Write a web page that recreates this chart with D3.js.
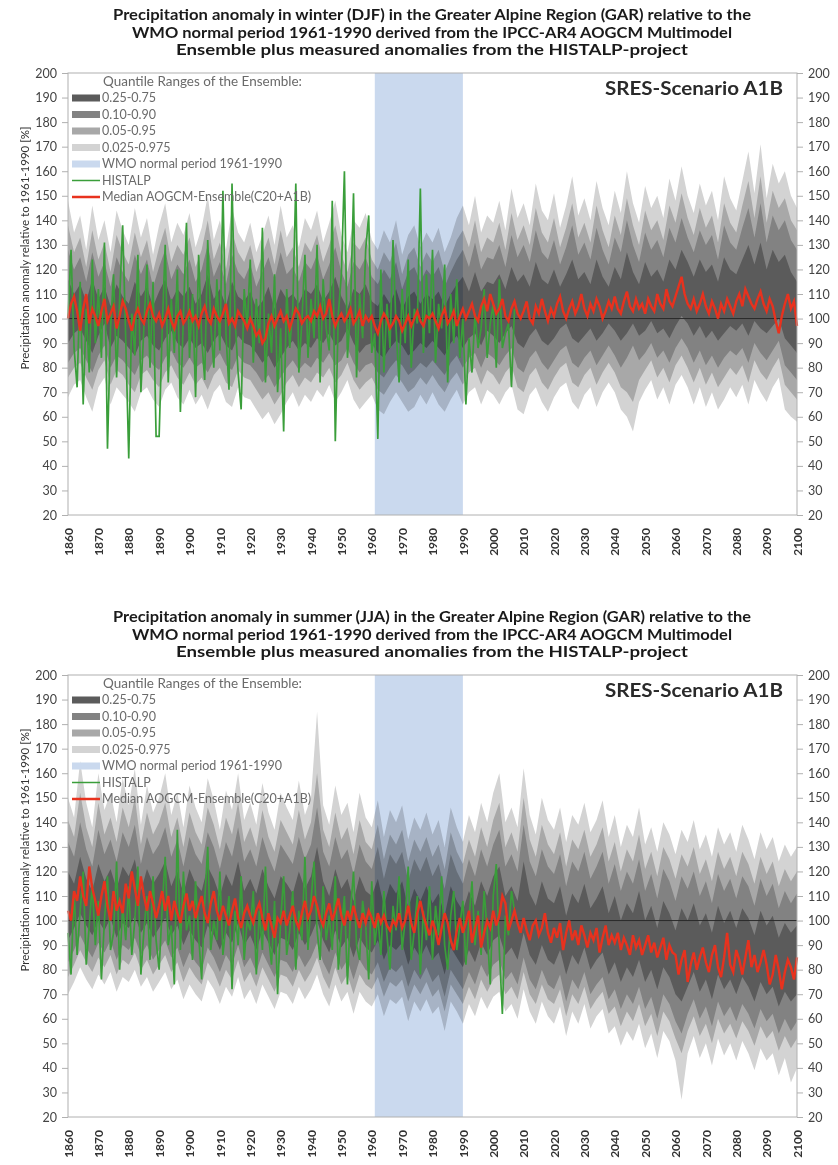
<!DOCTYPE html>
<html>
<head>
<meta charset="utf-8">
<script src="https://cdn.jsdelivr.net/npm/d3@7"></script>
<style>
body { margin: 0; background: #fff; }
svg { display: block; font-family: Lato, 'Open Sans', sans-serif; }
</style>
</head>
<body>
<svg id="chart" width="838" height="1165"></svg>
<script>
// ---------- Data ----------
const medianYears = d3.range(1860, 2101);      // 1860..2100
const histYears = d3.range(1860, 2008);        // 1860..2007
const bandYears = d3.range(1860, 2101, 2);     // every 2nd year
const yTicks = d3.range(20, 201, 10);
const xTicks = d3.range(1860, 2101, 10);

// Winter (DJF)
const winterMedian = [
 100,106,109,103,95,104,110,98,104,101,
 97,103,108,99,102,105,96,101,107,104,
 99,95,101,104,100,98,103,106,101,99,
 102,97,100,104,99,96,101,103,98,100,
 103,99,101,97,102,105,100,98,104,101,
 99,102,106,98,100,97,103,101,99,96,
 100,97,93,95,90,92,98,101,97,100,
 103,99,101,96,100,104,102,98,100,101,
 99,103,101,105,100,102,108,101,97,100,
 102,99,101,104,98,100,103,97,101,99,
 101,97,94,99,102,100,96,98,101,99,
 95,98,101,97,100,103,99,97,101,100,
 102,99,96,101,104,98,100,103,97,101,
 104,100,103,106,101,99,105,108,103,110,
 106,102,104,108,101,99,104,107,102,100,
 103,107,100,98,105,102,108,103,99,104,
 101,106,109,103,100,104,107,102,105,110,
 104,101,106,103,108,105,100,103,107,104,
 109,104,102,107,111,105,103,108,104,106,
 102,108,105,103,110,106,104,112,107,105,
 109,113,117,110,106,104,108,103,106,110,
 105,102,107,104,100,106,103,108,105,102,
 107,110,105,112,109,106,104,108,111,106,
 103,108,105,99,94,101,106,110,104,107,
 97];
const winterHistalp = [
 100,128,88,72,115,65,104,78,124,90,
 112,84,131,47,96,118,76,108,138,92,
 43,102,85,126,70,97,122,80,115,52,
 52,95,130,74,108,86,120,62,101,139,
 84,110,68,126,92,75,132,98,80,116,
 87,152,94,71,155,100,78,63,112,96,
 124,82,108,90,137,74,102,86,118,70,
 96,54,112,88,104,155,78,99,126,84,
 108,92,130,74,116,96,87,148,50,102,
 118,160,84,104,151,76,110,92,128,142,
 86,94,51,120,78,106,88,132,96,74,
 112,90,124,80,104,98,153,86,118,94,
 128,82,106,96,122,74,110,90,116,84,
 100,65,92,78,102,88,96,112,84,98,
 106,80,116,88,94,98,72,104];
const winterQ975 = [
 148,135,142,128,146,132,140,127,144,136,
 130,145,133,141,126,138,147,131,139,134,
 143,129,137,150,132,140,128,145,135,131,
 139,127,134,142,130,146,133,138,129,141,
 136,144,131,139,148,134,127,140,137,143,
 132,128,136,131,140,126,134,138,129,135,
 131,137,127,133,141,146,138,150,135,142,
 139,148,136,153,141,147,138,155,144,140,
 151,137,146,158,142,149,140,156,145,138,
 152,143,160,147,139,154,145,150,141,157,
 148,162,150,143,155,146,152,140,158,149,
 144,156,168,151,171,149,163,155,160,150,
 145];
const winterQ95 = [
 138,127,133,121,136,124,131,119,134,127,
 122,135,125,132,119,129,137,123,130,126,
 133,121,128,140,124,131,120,135,127,123,
 130,119,126,133,122,136,125,129,121,131,
 127,134,123,130,138,126,119,131,128,133,
 124,120,127,123,131,118,126,129,121,127,
 123,128,119,125,132,136,129,140,127,133,
 131,139,128,143,132,138,130,145,135,131,
 141,129,137,147,133,139,131,146,136,129,
 142,134,149,138,130,144,136,140,132,146,
 139,151,141,134,145,137,142,131,147,139,
 135,146,156,141,158,139,152,145,149,140,
 136];
const winterQ90 = [
 128,120,125,115,127,117,123,113,125,119,
 115,126,118,124,113,121,128,116,122,118,
 124,115,120,130,117,123,114,126,119,116,
 122,113,119,125,116,127,118,121,115,123,
 120,126,116,122,129,119,113,123,120,125,
 117,114,120,116,123,112,119,121,115,120,
 117,121,113,119,124,128,121,131,120,125,
 124,130,121,134,125,130,123,136,127,124,
 132,122,129,138,126,131,124,137,128,122,
 133,127,140,130,123,135,128,132,125,137,
 131,141,133,127,136,130,134,124,138,131,
 128,137,145,133,147,131,142,136,140,132,
 128];
const winterQ75 = [
 116,110,114,107,116,108,113,105,114,109,
 106,115,109,113,105,111,116,107,112,109,
 113,106,110,118,108,112,105,115,109,107,
 111,104,107,113,104,112,108,110,106,112,
 110,114,107,111,117,109,104,112,110,114,
 107,105,110,106,112,104,109,111,106,110,
 108,111,105,110,114,117,111,119,111,115,
 114,118,112,121,115,118,113,123,116,114,
 120,113,118,124,116,119,114,124,117,113,
 121,116,127,119,114,123,117,120,115,124,
 120,128,123,117,124,119,122,115,125,120,
 118,124,130,122,131,120,128,123,126,119,
 115];
const winterQ25 = [
 90,94,96,91,86,93,98,88,93,91,
 88,85,91,93,89,87,92,95,90,88,
 92,88,90,86,91,94,89,87,93,90,
 89,86,82,85,80,84,88,91,87,90,
 88,92,90,94,89,91,96,90,86,89,
 90,86,84,88,91,89,85,87,90,88,
 91,88,85,90,93,88,92,94,89,95,
 93,90,94,97,90,88,93,96,91,89,
 92,96,98,92,90,93,96,91,94,98,
 95,91,94,98,93,95,99,94,96,92,
 97,101,98,93,97,92,95,91,94,97,
 95,98,93,99,96,94,97,100,92,89,
 86];
const winterQ10 = [
 82,86,88,83,78,85,89,80,85,83,
 80,77,83,85,81,79,84,87,82,80,
 84,80,82,78,83,86,81,79,85,82,
 81,78,74,77,72,76,80,83,79,82,
 80,84,82,86,81,83,88,82,78,81,
 82,78,76,80,83,81,77,79,82,80,
 83,80,77,82,85,80,84,86,80,86,
 84,81,85,88,80,78,84,87,82,79,
 83,87,89,82,80,84,87,81,85,89,
 85,80,84,89,83,86,90,84,87,82,
 88,92,88,82,87,81,85,80,84,87,
 85,88,82,90,86,83,87,91,81,78,
 75];
const winterQ05 = [
 76,80,82,76,71,79,83,73,79,77,
 73,70,77,79,75,72,78,81,76,73,
 78,73,76,71,77,80,74,72,79,76,
 75,71,67,70,65,69,74,77,72,76,
 74,78,76,80,74,77,82,75,71,74,
 76,71,69,73,77,74,70,72,76,73,
 77,73,70,75,78,73,78,80,73,79,
 77,73,78,81,72,70,77,80,74,71,
 76,80,82,74,72,77,80,73,78,82,
 78,72,70,66,75,79,83,76,80,74,
 81,85,80,74,80,73,78,72,76,80,
 77,81,74,83,78,75,80,84,73,70,
 67];
const winterQ025 = [
 68,73,75,68,62,72,76,65,72,69,
 66,62,70,72,67,64,71,74,68,65,
 71,65,69,63,70,73,66,64,72,68,
 67,63,59,62,57,61,66,70,64,69,
 66,71,68,73,66,70,75,67,63,66,
 69,63,61,66,70,66,62,64,69,65,
 70,65,62,67,71,65,70,72,65,71,
 69,65,70,73,63,61,69,72,66,62,
 68,72,74,66,63,69,72,64,70,74,
 70,63,60,54,66,71,75,67,72,65,
 73,77,72,65,72,64,70,63,67,72,
 68,73,65,75,70,66,72,76,63,60,
 58];

// Summer (JJA)
const summerMedian = [
 104,100,112,108,118,110,106,122,113,108,
 102,110,116,106,100,112,104,108,103,115,
 109,120,113,106,118,110,104,112,107,101,
 106,112,104,110,100,108,103,99,106,111,
 104,108,101,106,110,103,99,107,112,104,
 100,106,102,98,104,109,101,97,103,106,
 102,99,104,107,101,96,103,98,93,101,
 99,104,98,102,106,100,97,103,108,101,
 104,110,106,101,98,103,107,100,104,109,
 102,98,104,100,106,101,97,103,99,104,
 101,97,103,99,102,98,96,100,98,103,
 97,100,106,99,95,103,108,102,98,94,
 100,96,90,97,103,99,92,88,96,101,
 95,99,104,91,97,102,89,95,100,97,
 104,98,102,110,107,96,100,104,99,95,
 101,96,92,98,100,94,97,103,95,91,
 97,93,99,88,95,100,92,96,90,98,
 94,89,95,92,97,87,93,98,90,94,
 91,95,88,93,90,86,94,89,92,86,
 90,94,87,91,85,89,93,84,90,87,
 86,78,84,88,75,82,87,80,85,89,
 83,79,86,90,81,77,85,95,82,79,
 88,84,78,85,92,81,86,79,83,88,
 82,74,78,86,80,72,79,84,81,76,
 85];
const summerHistalp = [
 95,78,112,86,104,120,82,98,115,90,
 108,76,100,118,88,95,124,80,106,92,
 114,86,100,122,78,96,110,84,118,92,
 80,105,126,90,98,74,137,88,120,96,
 102,84,116,94,76,108,130,88,100,92,
 120,86,98,110,72,104,90,118,84,100,
 96,112,78,104,88,122,94,82,108,70,
 100,118,86,96,112,80,104,92,126,88,
 108,124,96,84,114,92,102,88,118,80,
 96,110,74,104,120,90,84,108,98,76,
 116,90,102,86,112,94,80,106,96,118,
 88,100,122,84,96,110,78,104,92,114,
 84,106,94,118,90,80,102,112,88,98,
 108,82,100,116,90,104,86,112,96,74,
 110,123,88,62,102,94,112,104];
const summerQ975 = [
 150,142,165,148,138,160,145,152,140,158,
 147,162,139,155,144,150,160,143,152,138,
 155,146,140,158,149,137,153,145,160,141,
 148,139,156,144,137,152,146,141,157,143,
 150,185,147,139,155,143,148,136,152,142,
 138,149,134,145,140,147,133,142,137,144,
 135,141,130,146,138,132,143,136,148,140,
 152,160,140,146,138,162,143,135,150,141,
 137,146,132,143,139,148,136,141,149,134,
 143,130,139,134,146,131,138,128,140,135,
 127,137,132,141,129,135,126,138,131,136,
 128,139,133,125,136,129,134,124,131,126,
 130];
const summerQ95 = [
 141,134,152,138,130,148,135,142,132,146,
 138,150,131,144,135,140,148,134,142,130,
 144,136,131,146,139,129,142,135,148,132,
 138,130,145,134,128,141,136,131,145,133,
 140,160,137,130,144,133,138,127,141,132,
 129,139,125,135,131,137,124,133,128,134,
 126,131,121,136,128,123,133,126,138,130,
 141,148,130,136,128,150,133,126,139,131,
 127,136,122,133,129,137,126,131,138,124,
 132,120,129,124,135,121,128,118,130,125,
 117,127,122,130,119,125,116,128,121,126,
 118,128,123,115,126,119,124,114,121,116,
 120];
const summerQ90 = [
 132,126,140,129,122,137,127,133,124,136,
 130,139,123,134,127,131,138,126,133,122,
 134,127,123,136,130,121,132,126,138,124,
 129,122,134,126,120,131,127,123,134,125,
 131,146,128,122,134,125,129,119,131,124,
 121,130,117,127,123,128,116,125,120,126,
 118,123,113,127,120,115,125,118,129,122,
 131,137,122,127,120,139,124,118,129,122,
 119,127,114,124,120,128,117,122,128,115,
 123,112,120,115,125,112,119,109,121,116,
 108,118,113,120,110,116,107,119,112,117,
 109,118,114,106,117,110,115,105,112,107,
 111];
const summerQ75 = [
 120,115,126,117,112,123,116,121,113,122,
 118,125,112,121,115,119,124,114,120,111,
 121,115,112,122,117,110,119,114,124,112,
 117,111,121,114,109,118,115,111,120,113,
 118,130,116,110,121,113,117,108,118,112,
 110,117,106,115,111,116,105,113,108,114,
 107,111,102,114,108,104,112,106,116,110,
 118,122,110,114,108,124,111,106,116,109,
 107,114,102,111,107,115,105,109,114,103,
 110,100,107,103,112,100,106,97,108,103,
 96,105,100,107,98,103,95,106,99,104,
 97,105,101,94,104,98,102,93,99,95,
 98];
const summerQ25 = [
 92,97,103,98,94,100,96,101,93,99,
 97,102,95,99,93,97,101,94,98,90,
 96,92,89,98,94,88,95,91,99,90,
 94,88,96,91,86,93,92,88,95,90,
 94,100,92,87,96,89,93,85,93,89,
 87,92,84,90,88,91,82,89,85,90,
 84,87,78,89,85,81,88,83,91,86,
 92,94,86,89,84,95,86,82,90,84,
 82,88,78,86,82,89,80,84,87,78,
 83,75,81,77,84,75,80,72,81,77,
 70,67,73,79,71,76,68,78,72,76,
 70,77,73,67,75,70,73,65,71,67,
 70];
const summerQ10 = [
 83,88,94,89,85,91,87,92,84,90,
 88,93,86,90,84,88,92,85,89,81,
 87,83,80,89,85,79,86,82,90,81,
 85,79,87,82,77,84,83,79,86,81,
 85,91,83,78,87,80,84,76,84,80,
 78,83,75,81,79,82,73,80,76,81,
 75,78,69,80,76,72,79,74,82,77,
 82,84,76,79,74,85,76,72,80,74,
 72,78,67,76,72,79,70,74,77,68,
 72,64,70,66,73,64,69,60,70,66,
 59,54,62,68,60,65,57,67,61,65,
 59,66,62,56,64,59,62,54,60,55,
 59];
const summerQ05 = [
 77,82,88,83,79,85,81,86,78,84,
 82,87,80,84,78,82,86,79,83,75,
 81,77,74,83,79,73,80,76,84,75,
 79,73,81,76,71,78,77,73,80,75,
 79,85,77,72,81,74,78,70,78,74,
 72,77,69,75,73,76,67,74,70,75,
 69,72,63,74,70,66,73,68,76,71,
 76,78,70,73,68,79,70,66,74,68,
 66,72,61,70,66,73,64,68,71,62,
 65,57,63,59,66,57,62,53,63,59,
 52,46,55,61,53,58,50,60,54,58,
 52,59,55,49,57,52,55,47,53,48,
 52];
const summerQ025 = [
 70,75,81,76,72,78,74,79,71,77,
 75,80,73,77,71,75,79,72,76,68,
 74,70,67,76,72,66,73,69,77,68,
 72,66,74,69,64,71,70,66,73,68,
 72,78,70,65,74,67,71,62,71,67,
 65,70,61,68,66,69,59,67,63,68,
 62,65,55,67,63,58,66,61,69,64,
 69,71,63,66,60,72,63,58,67,61,
 58,65,53,63,58,66,56,61,64,54,
 57,49,55,51,58,48,54,44,55,51,
 43,27,46,53,44,50,41,52,45,50,
 43,51,46,39,48,43,46,37,44,34,
 40];

const winterTitle = [
  "Precipitation anomaly in winter (DJF) in the Greater Alpine Region (GAR) relative to the",
  "WMO normal period 1961-1990 derived from the IPCC-AR4 AOGCM Multimodel",
  "Ensemble plus measured anomalies from the HISTALP-project"];
const summerTitle = [
  "Precipitation anomaly in summer (JJA) in the Greater Alpine Region (GAR) relative to the",
  "WMO normal period 1961-1990 derived from the IPCC-AR4 AOGCM Multimodel",
  "Ensemble plus measured anomalies from the HISTALP-project"];
const legendLabels = ["0.25-0.75", "0.10-0.90", "0.05-0.95", "0.025-0.975",
  "WMO normal period 1961-1990", "HISTALP", "Median AOGCM-Ensemble(C20+A1B)"];

// ---------- Styling ----------
const bandColors = ["#d3d3d3", "#a8a8a8", "#828282", "#5b5b5b"];
const wmoColor = "#cad9ee";
const histColor = "#3a9e3a";
const medColor = "#e8321e";
const titleWidths = [638, 600, 512];

const svg = d3.select("#chart");
const x = d3.scaleLinear().domain([1860, 2100]).range([68, 797]);

function drawPanel(off, title, med, hist, bands) {
  const g = svg.append("g").attr("transform", "translate(0," + off + ")");
  const y = d3.scaleLinear().domain([20, 200]).range([515, 73]);

  // Title
  g.selectAll(".title")
    .data(title)
    .join("text")
      .attr("x", 432)
      .attr("y", (d, i) => 20 + i * 17.5)
      .attr("text-anchor", "middle")
      .attr("textLength", (d, i) => titleWidths[i])
      .attr("lengthAdjust", "spacingAndGlyphs")
      .style("font-size", "14.5px")
      .style("font-weight", "bold")
      .style("fill", "#1a1a1a")
      .text(d => d);

  // Quantile bands
  const area = (lo, hi) => d3.area()
    .x((d, i) => x(bandYears[i]))
    .y0((d, i) => y(lo[i]))
    .y1((d, i) => y(hi[i]));
  bands.forEach((b, k) => {
    g.append("path")
      .datum(bandYears)
      .attr("d", area(b[0], b[1]))
      .attr("fill", bandColors[k]);
  });

  // WMO normal period
  g.append("rect")
    .attr("x", x(1961))
    .attr("y", y(200))
    .attr("width", x(1990) - x(1961))
    .attr("height", y(20) - y(200))
    .attr("fill", wmoColor)
    .style("mix-blend-mode", "multiply");

  // 100 % reference line
  g.append("line")
    .attr("x1", x(1860)).attr("x2", x(2100))
    .attr("y1", y(100)).attr("y2", y(100))
    .attr("stroke", "#2a2a2a").attr("stroke-width", 1);

  // HISTALP
  g.append("path")
    .datum(hist)
    .attr("d", d3.line().x((d, i) => x(histYears[i])).y(d => y(d)))
    .attr("fill", "none")
    .attr("stroke", histColor)
    .attr("stroke-width", 1.7);

  // Median
  g.append("path")
    .datum(med)
    .attr("d", d3.line().x((d, i) => x(medianYears[i])).y(d => y(d)))
    .attr("fill", "none")
    .attr("stroke", medColor)
    .attr("stroke-width", 2.4);

  // Frame
  g.append("rect")
    .attr("x", x(1860)).attr("y", y(200))
    .attr("width", x(2100) - x(1860)).attr("height", y(20) - y(200))
    .attr("fill", "none").attr("stroke", "#b0b0b0").attr("stroke-width", 1);

  // Axes
  const left = g.append("g")
    .attr("transform", "translate(" + x(1860) + ",0)")
    .call(d3.axisLeft(y).tickValues(yTicks).tickSize(6).tickPadding(5));
  const right = g.append("g")
    .attr("transform", "translate(" + x(2100) + ",0)")
    .call(d3.axisRight(y).tickValues(yTicks).tickSize(6).tickPadding(5));
  [left, right].forEach(a => {
    a.select(".domain").remove();
    a.selectAll(".tick line").attr("stroke", "#b0b0b0");
    a.selectAll(".tick text").style("font-size", "12.5px").style("fill", "#444")
      .style("font-family", "Lato, sans-serif");
  });

  const bottom = g.append("g")
    .attr("transform", "translate(0," + y(20) + ")")
    .call(d3.axisBottom(x).tickValues(xTicks).tickSize(0).tickFormat(d3.format("d")));
  bottom.select(".domain").remove();
  bottom.selectAll(".tick text")
    .attr("transform", "rotate(-90)")
    .attr("x", -13)
    .attr("y", 0)
    .attr("dy", "0.35em")
    .attr("text-anchor", "end")
    .style("font-size", "12px")
    .style("font-weight", "bold")
    .style("fill", "#333")
    .style("font-family", "Lato, sans-serif");

  // Y-axis title
  g.append("text")
    .attr("transform", "translate(25,248) rotate(-90)")
    .attr("text-anchor", "middle")
    .attr("dy", "0.35em")
    .attr("textLength", 243)
    .attr("lengthAdjust", "spacingAndGlyphs")
    .style("font-size", "11.5px")
    .style("fill", "#333")
    .text("Precipitation anomaly relative to 1961-1990 [%]");

  // Scenario label
  g.append("text")
    .attr("x", 783).attr("y", 95)
    .attr("text-anchor", "end")
    .attr("textLength", 178)
    .attr("lengthAdjust", "spacingAndGlyphs")
    .style("font-size", "18px")
    .style("font-weight", "bold")
    .style("fill", "#2a2a2a")
    .text("SRES-Scenario A1B");

  // Legend
  const lg = g.append("g");
  lg.append("text")
    .attr("x", 103).attr("y", 82).attr("dy", "0.35em")
    .attr("textLength", 199).attr("lengthAdjust", "spacingAndGlyphs")
    .style("font-size", "12.5px").style("fill", "#6a6a6a")
    .text("Quantile Ranges of the Ensemble:");
  const rowY = i => 98 + i * 16.5;
  const swatchFill = bandColors.slice().reverse().concat([wmoColor]);
  lg.selectAll(".sw")
    .data(swatchFill)
    .join("rect")
      .attr("x", 72).attr("y", (d, i) => rowY(i) - 3.5)
      .attr("width", 28).attr("height", 7)
      .attr("fill", d => d);
  lg.selectAll(".ln")
    .data([histColor, medColor])
    .join("line")
      .attr("x1", 72).attr("x2", 100)
      .attr("y1", (d, i) => rowY(5 + i)).attr("y2", (d, i) => rowY(5 + i))
      .attr("stroke", d => d)
      .attr("stroke-width", (d, i) => i ? 2.5 : 1.5);
  lg.selectAll(".lt")
    .data(legendLabels)
    .join("text")
      .attr("x", 102).attr("y", (d, i) => rowY(i)).attr("dy", "0.35em")
      .style("font-size", "12.5px").style("fill", "#6a6a6a")
      .text(d => d);
}

drawPanel(0, winterTitle, winterMedian, winterHistalp,
  [[winterQ025, winterQ975], [winterQ05, winterQ95], [winterQ10, winterQ90], [winterQ25, winterQ75]]);
drawPanel(602, summerTitle, summerMedian, summerHistalp,
  [[summerQ025, summerQ975], [summerQ05, summerQ95], [summerQ10, summerQ90], [summerQ25, summerQ75]]);
</script>
</body>
</html>
